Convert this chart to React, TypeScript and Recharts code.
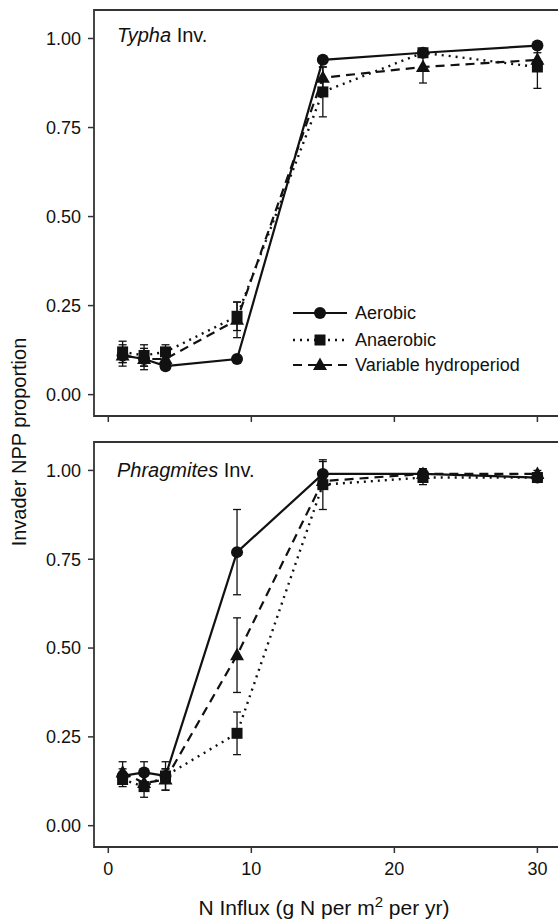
import React from 'react';
import { LineChart, Line, XAxis, YAxis, ErrorBar, ReferenceArea, Legend } from 'recharts';

const X_VALUES = [1, 2.5, 4, 9, 15, 22, 30];
const X_TICKS = [0, 10, 20, 30];
const Y_TICKS = [0, 0.25, 0.5, 0.75, 1];

// Typha invasion panel
const TYPHA_AEROBIC = [0.11, 0.1, 0.08, 0.1, 0.94, 0.96, 0.98];
const TYPHA_AEROBIC_ERR = [0.02, 0.02, 0.01, 0.01, 0.01, 0.01, 0.01];
const TYPHA_ANAEROBIC = [0.12, 0.11, 0.12, 0.22, 0.85, 0.96, 0.92];
const TYPHA_ANAEROBIC_ERR = [0.03, 0.03, 0.02, 0.04, 0.07, 0.01, 0.06];
const TYPHA_VARIABLE = [0.11, 0.1, 0.1, 0.21, 0.89, 0.92, 0.94];
const TYPHA_VARIABLE_ERR = [0.03, 0.03, 0.02, 0.05, 0.03, 0.045, 0.02];

// Phragmites invasion panel
const PHRAG_AEROBIC = [0.14, 0.15, 0.14, 0.77, 0.99, 0.99, 0.98];
const PHRAG_AEROBIC_ERR = [0.02, 0.03, 0.02, 0.12, 0.035, 0.01, 0.01];
const PHRAG_ANAEROBIC = [0.13, 0.11, 0.14, 0.26, 0.96, 0.98, 0.98];
const PHRAG_ANAEROBIC_ERR = [0.02, 0.03, 0.04, 0.06, 0.07, 0.02, 0.01];
const PHRAG_VARIABLE = [0.15, 0.12, 0.13, 0.48, 0.97, 0.99, 0.99];
const PHRAG_VARIABLE_ERR = [0.03, 0.02, 0.03, 0.105, 0.02, 0.015, 0.01];

const SERIES_NAMES = ['Aerobic', 'Anaerobic', 'Variable hydroperiod'];

const FONT = '"Liberation Sans", Arial, Helvetica, sans-serif';
const INK = '#111';
const X_DOMAIN: [number, number] = [-1, 32];
const Y_DOMAIN: [number, number] = [-0.06, 1.08];

function buildRows(a: number[], ae: number[], n: number[], ne: number[], v: number[], ve: number[]) {
  return X_VALUES.map((x, i) => ({
    x,
    aero: a[i],
    aeroErr: ae[i],
    anae: n[i],
    anaeErr: ne[i],
    vari: v[i],
    variErr: ve[i],
  }));
}

const typhaRows = buildRows(TYPHA_AEROBIC, TYPHA_AEROBIC_ERR, TYPHA_ANAEROBIC, TYPHA_ANAEROBIC_ERR, TYPHA_VARIABLE, TYPHA_VARIABLE_ERR);
const phragRows = buildRows(PHRAG_AEROBIC, PHRAG_AEROBIC_ERR, PHRAG_ANAEROBIC, PHRAG_ANAEROBIC_ERR, PHRAG_VARIABLE, PHRAG_VARIABLE_ERR);

const circleDot = (p: any) => {
  if (p.cx == null || p.cy == null) return <g key={`c-${p.index}`} />;
  return <circle key={`c-${p.index}`} cx={p.cx} cy={p.cy} r={6} fill={INK} />;
};
const squareDot = (p: any) => {
  if (p.cx == null || p.cy == null) return <g key={`s-${p.index}`} />;
  return <rect key={`s-${p.index}`} x={p.cx - 5.5} y={p.cy - 5.5} width={11} height={11} fill={INK} />;
};
const triangleDot = (p: any) => {
  if (p.cx == null || p.cy == null) return <g key={`t-${p.index}`} />;
  const { cx, cy } = p;
  return <path key={`t-${p.index}`} d={`M${cx},${cy - 7.5}L${cx - 7},${cy + 5}L${cx + 7},${cy + 5}Z`} fill={INK} />;
};

const SOLID = '';
const DOTTED = '2 5';
const DASHED = '9 6';

const LegendBox = () => (
  <svg width={240} height={80} style={{ display: 'block' }}>
    {[0, 1, 2].map((i) => {
      const y = [13, 40, 65][i];
      const dash = [SOLID, DOTTED, DASHED][i];
      return (
        <g key={i}>
          <line x1={3} x2={57} y1={y} y2={y} stroke={INK} strokeWidth={i === 1 ? 2.4 : 2.2} strokeDasharray={dash || undefined} />
          {i === 0 && <circle cx={30} cy={y} r={6} fill={INK} />}
          {i === 1 && <rect x={24.5} y={y - 5.5} width={11} height={11} fill={INK} />}
          {i === 2 && <path d={`M30,${y - 7.5}L23,${y + 5}L37,${y + 5}Z`} fill={INK} />}
          <text x={65} y={y} dominantBaseline="central" fontSize={18} fontFamily={FONT} fill={INK}>
            {SERIES_NAMES[i]}
          </text>
        </g>
      );
    })}
  </svg>
);

function Panel({ rows, height, top, bottomAxisHeight, showXLabels, withLegend }: any) {
  return (
    <LineChart
      width={600}
      height={height}
      data={rows}
      margin={{ top, right: 34, bottom: 0, left: 0 }}
    >
      <XAxis
        type="number"
        dataKey="x"
        domain={X_DOMAIN}
        ticks={X_TICKS}
        allowDataOverflow
        axisLine={false}
        tickLine={{ stroke: '#333', strokeWidth: 1.5 }}
        tickSize={6}
        tickMargin={9}
        height={bottomAxisHeight}
        tick={{ fill: INK, fontSize: 18, fontFamily: FONT }}
        tickFormatter={(v: number) => (showXLabels ? String(v) : '')}
      />
      <YAxis
        type="number"
        domain={Y_DOMAIN}
        ticks={Y_TICKS}
        allowDataOverflow
        width={94}
        axisLine={false}
        tickLine={{ stroke: '#333', strokeWidth: 1.5 }}
        tickSize={6}
        tickMargin={7}
        tick={{ fill: INK, fontSize: 18, fontFamily: FONT }}
        tickFormatter={(v: number) => v.toFixed(2)}
      />
      <ReferenceArea
        x1={X_DOMAIN[0]}
        x2={X_DOMAIN[1]}
        y1={Y_DOMAIN[0]}
        y2={Y_DOMAIN[1]}
        fill="none"
        fillOpacity={0}
        stroke="#333"
        strokeWidth={1.8}
        ifOverflow="visible"
      />
      <Line
        type="linear"
        dataKey="aero"
        name={SERIES_NAMES[0]}
        stroke={INK}
        strokeWidth={2.2}
        dot={circleDot}
        activeDot={false}
        isAnimationActive={false}
      >
        <ErrorBar dataKey="aeroErr" direction="y" width={4} stroke={INK} strokeWidth={1.3} isAnimationActive={false} />
      </Line>
      <Line
        type="linear"
        dataKey="vari"
        name={SERIES_NAMES[2]}
        stroke={INK}
        strokeWidth={2.2}
        strokeDasharray={DASHED}
        dot={triangleDot}
        activeDot={false}
        isAnimationActive={false}
      >
        <ErrorBar dataKey="variErr" direction="y" width={4} stroke={INK} strokeWidth={1.3} isAnimationActive={false} />
      </Line>
      <Line
        type="linear"
        dataKey="anae"
        name={SERIES_NAMES[1]}
        stroke={INK}
        strokeWidth={2.4}
        strokeDasharray={DOTTED}
        dot={squareDot}
        activeDot={false}
        isAnimationActive={false}
      >
        <ErrorBar dataKey="anaeErr" direction="y" width={4} stroke={INK} strokeWidth={1.3} isAnimationActive={false} />
      </Line>
      {withLegend && (
        <Legend
          layout="horizontal"
          align="center"
          verticalAlign="middle"
          content={() => <LegendBox />}
          wrapperStyle={{ position: 'absolute', left: 290, top: 300, width: 240, height: 80 }}
        />
      )}
    </LineChart>
  );
}

export default function App() {
  return (
    <div
      style={{
        position: 'absolute',
        left: 0,
        top: 0,
        width: 558,
        height: 919,
        overflow: 'hidden',
        background: '#fff',
        fontFamily: FONT,
      }}
    >
      <div style={{ position: 'absolute', left: 0, top: 0 }}>
        <Panel rows={typhaRows} height={430} top={10} bottomAxisHeight={14} showXLabels={false} withLegend />
      </div>
      <div style={{ position: 'absolute', left: 0, top: 430 }}>
        <Panel rows={phragRows} height={489} top={12} bottomAxisHeight={72} showXLabels withLegend={false} />
      </div>
      <svg
        width={558}
        height={919}
        style={{ position: 'absolute', left: 0, top: 0, pointerEvents: 'none' }}
      >
        <text x={117} y={42} fontSize={20} fontFamily={FONT} fill={INK}>
          <tspan fontStyle="italic">Typha</tspan> Inv.
        </text>
        <text x={117} y={477} fontSize={20} fontFamily={FONT} fill={INK}>
          <tspan fontStyle="italic">Phragmites</tspan> Inv.
        </text>
        <text
          x={26}
          y={442}
          transform="rotate(-90 26 442)"
          textAnchor="middle"
          fontSize={20}
          fontFamily={FONT}
          fill={INK}
        >
          Invader NPP proportion
        </text>
        <text x={324} y={915} textAnchor="middle" fontSize={21} fontFamily={FONT} fill={INK}>
          N Influx (g N per m<tspan dy={-8} fontSize={15}>2</tspan>
          <tspan dy={8}> per yr)</tspan>
        </text>
      </svg>
    </div>
  );
}
